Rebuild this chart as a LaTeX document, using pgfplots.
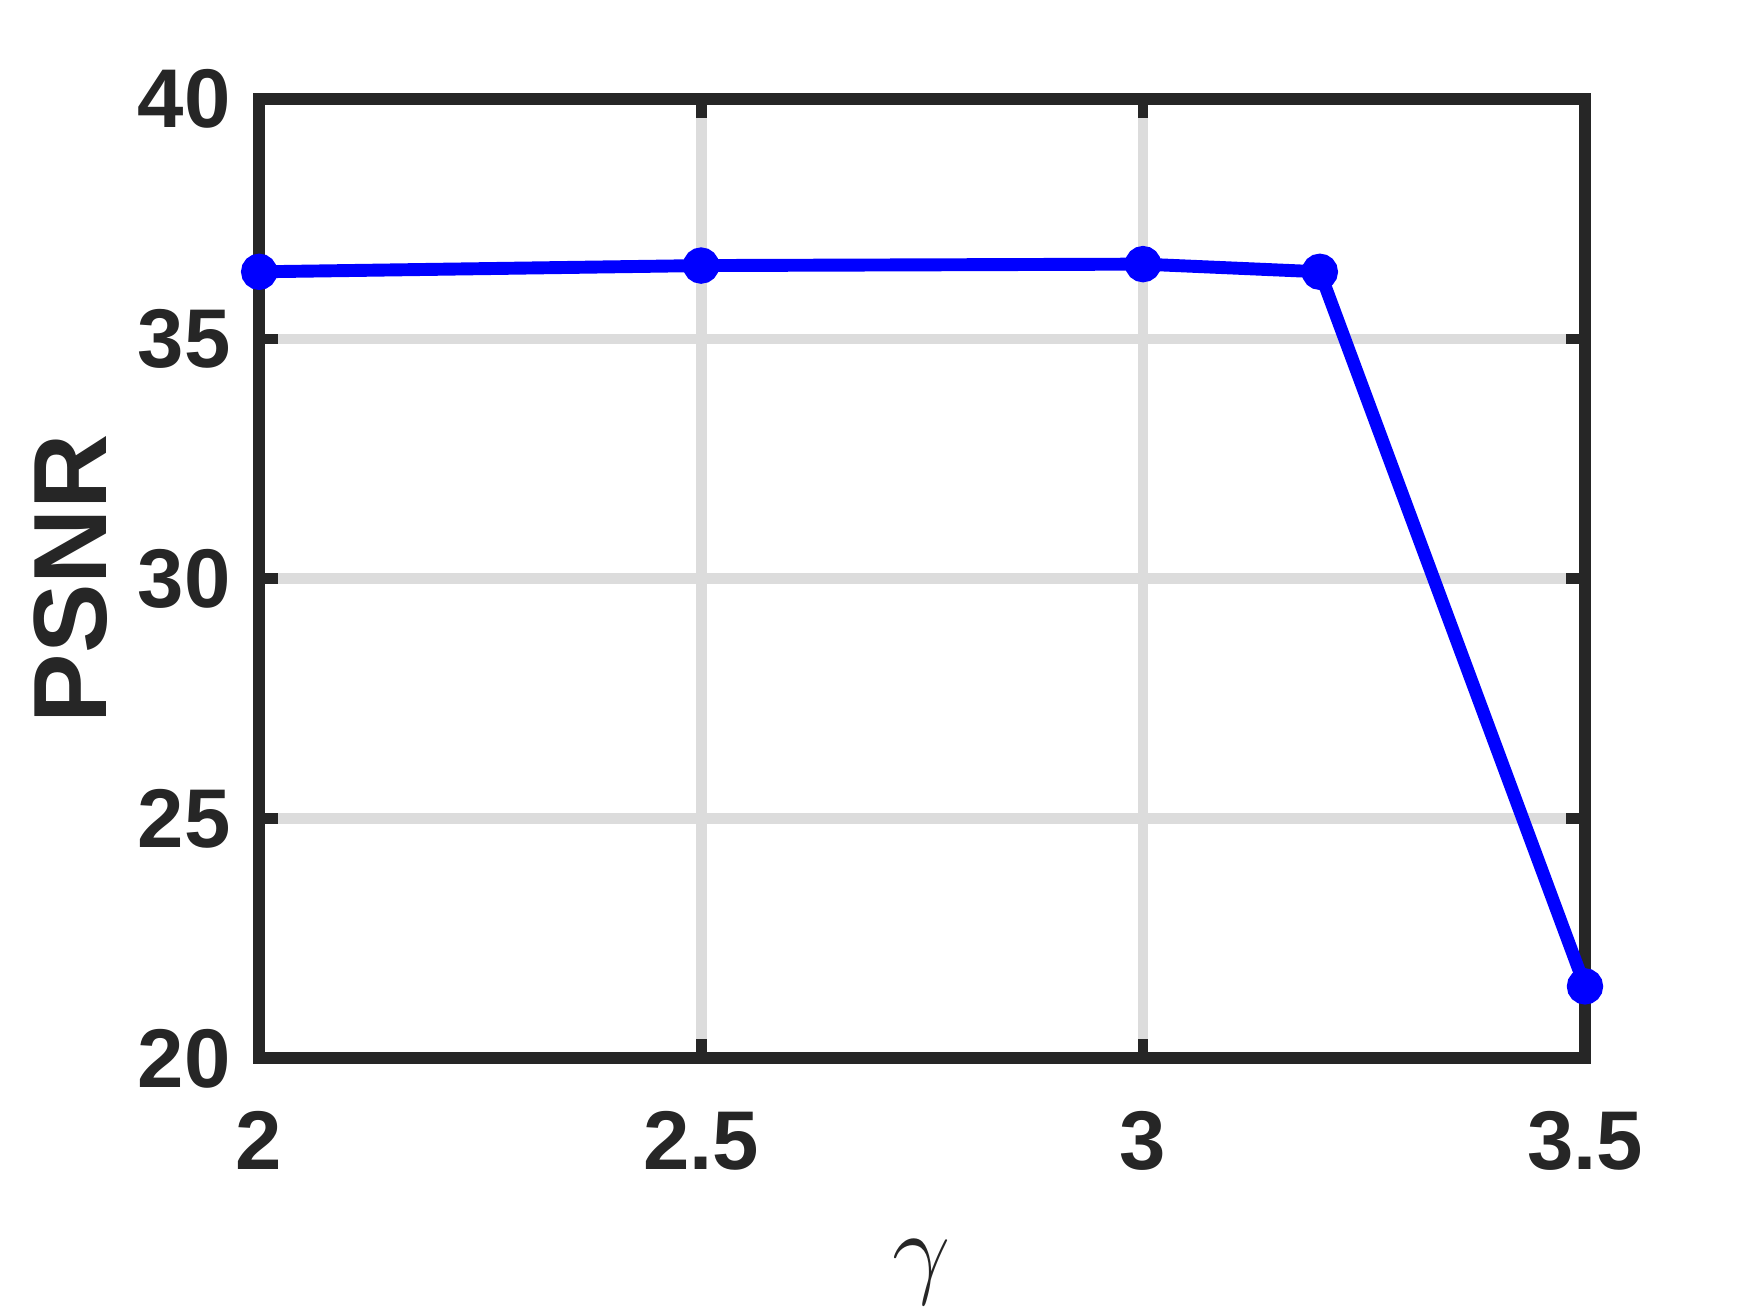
\documentclass[border=0pt]{standalone}
\usepackage{pgfplots}
\pgfplotsset{compat=1.18}
\usepackage{fontspec}
\setmainfont{Liberation Sans}
\definecolor{axgray}{HTML}{262626}
\definecolor{gridgray}{HTML}{DCDCDC}

\begin{document}
\begin{tikzpicture}
\begin{axis}[
    name=ax,
    width=318.2pt, height=230.2pt, scale only axis,
    xmin=2, xmax=3.5, ymin=20, ymax=40,
    xtick={2,2.5,3,3.5}, ytick={20,25,30,35,40},
    grid=major,
    major grid style={gridgray, line width=2.6pt},
    axis line style={axgray, line width=2.8pt},
    tick style={axgray, line width=2.6pt},
    major tick length=4.6pt, tick align=inside,
    /pgf/number format/assume math mode=true,
    ticklabel style={font=\fontsize{20}{24}\selectfont\bfseries, text=axgray, inner sep=0pt},
    xticklabel style={yshift=-12.6pt, anchor=north},
    yticklabel style={xshift=-6.7pt, anchor=east},
    xlabel={$\gamma$}, ylabel={PSNR},
    xlabel style={font=\fontsize{24}{28}\selectfont, text=axgray, inner sep=0pt,
        at={(axis description cs:0.5,-0.223)}, anchor=center},
    ylabel style={font=\fontsize{25}{30}\selectfont\bfseries, text=axgray, inner sep=0pt,
        at={(axis description cs:-0.1425,0.5)}, anchor=center},
    clip=false,
]
\addplot[blue, line width=3.1pt, mark=*, mark size=2.8pt, mark options={solid}]
    coordinates {(2,36.40) (2.5,36.53) (3,36.56) (3.2,36.40) (3.5,21.5)};
\end{axis}
\path ([xshift=-62.2pt,yshift=-61.2pt]ax.south west) rectangle ([xshift=39.6pt,yshift=23.8pt]ax.north east);
\end{tikzpicture}
\end{document}
